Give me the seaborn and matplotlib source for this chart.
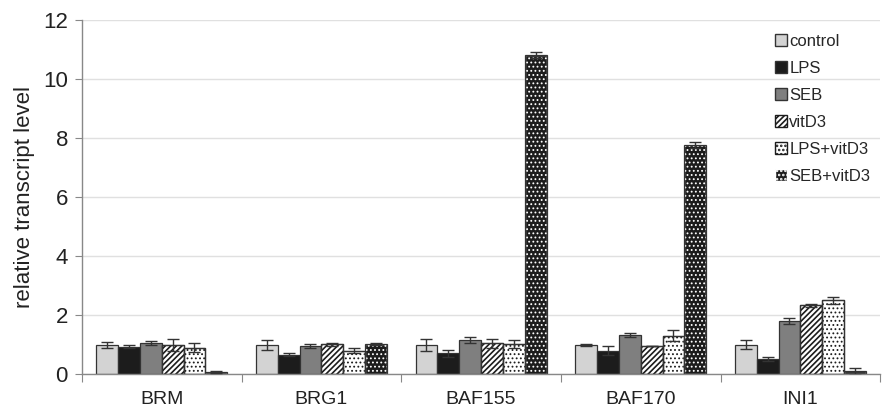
import numpy as np
import pandas as pd
import seaborn as sns
import matplotlib.pyplot as plt
from matplotlib.patches import Patch

# data
genes = ['BRM', 'BRG1', 'BAF155', 'BAF170', 'INI1']
treatments = ['control', 'LPS', 'SEB', 'vitD3', 'LPS+vitD3', 'SEB+vitD3']

control = [1.00, 1.00, 1.00, 0.98, 1.00]
lps = [0.93, 0.65, 0.70, 0.80, 0.50]
seb = [1.05, 0.95, 1.15, 1.33, 1.80]
vitd3 = [1.00, 1.02, 1.05, 0.95, 2.33]
lps_vitd3 = [0.90, 0.80, 1.02, 1.30, 2.50]
seb_vitd3 = [0.07, 1.02, 10.80, 7.75, 0.10]

control_err = [0.10, 0.17, 0.20, 0.03, 0.15]
lps_err = [0.05, 0.05, 0.12, 0.15, 0.07]
seb_err = [0.07, 0.08, 0.10, 0.08, 0.10]
vitd3_err = [0.20, 0.05, 0.15, 0.00, 0.05]
lps_vitd3_err = [0.15, 0.07, 0.15, 0.18, 0.12]
seb_vitd3_err = [0.02, 0.02, 0.10, 0.10, 0.12]

values = [control, lps, seb, vitd3, lps_vitd3, seb_vitd3]
errors = [control_err, lps_err, seb_err, vitd3_err, lps_vitd3_err, seb_vitd3_err]

rows = []
for t, vals in zip(treatments, values):
    for g, v in zip(genes, vals):
        rows.append({'gene': g, 'treatment': t, 'level': v})
df = pd.DataFrame(rows)

# bar styles: face, hatch, hatch colour
faces = ['#d3d3d3', '#1c1c1c', '#7f7f7f', 'white', 'white', '#1c1c1c']
hatches = [None, None, None, '//////', '....', '....']
hatch_cols = ['#333333', '#333333', '#333333', '#1c1c1c', '#1c1c1c', 'white']
hatch_lw = [1.0, 1.0, 1.0, 1.2, 0.8, 0.8]

sns.set_style('white')
plt.rcParams['font.family'] = ['Liberation Sans', 'DejaVu Sans']
plt.rcParams['hatch.linewidth'] = 1.2

fig = plt.figure(figsize=(8.9, 4.08), dpi=100)
ax = fig.add_axes([0.092, 0.083, 0.897, 0.868])

sns.barplot(data=df, x='gene', y='level', hue='treatment', order=genes,
            hue_order=treatments, errorbar=None, width=0.82, ax=ax,
            legend=False)

bar_groups = list(ax.containers)
for i, cont in enumerate(bar_groups):
    xs, hs = [], []
    for bar in cont:
        bar.set_facecolor(faces[i])
        bar.set_linewidth(0.9)
        if hatches[i]:
            bar.set_hatch(hatches[i])
            bar.set_edgecolor(hatch_cols[i])
            if hasattr(bar, 'set_hatch_linewidth'):
                bar.set_hatch_linewidth(hatch_lw[i])
            # outline drawn separately so the hatch colour can differ
            ax.add_patch(plt.Rectangle(bar.get_xy(), bar.get_width(), bar.get_height(),
                                       fill=False, edgecolor='#333333', linewidth=0.9,
                                       zorder=bar.get_zorder() + 0.1))
        else:
            bar.set_edgecolor('#333333')
        xs.append(bar.get_x() + bar.get_width() / 2)
        hs.append(bar.get_height())
    ax.errorbar(xs, hs, yerr=errors[i], fmt='none', ecolor='#333333',
                elinewidth=1.0, capsize=4, capthick=1.0, zorder=5)

ax.set_ylim(0, 12)
ax.set_xlim(-0.5, 4.5)
ax.set_yticks(np.arange(0, 13, 2))
ax.yaxis.grid(True, color='#e0e0e0', linewidth=1.0)
ax.set_axisbelow(True)
ax.set_xlabel('')
ax.set_ylabel('relative transcript level', fontsize=16, color='#222222', labelpad=6)

ax.tick_params(axis='y', labelsize=16, colors='#222222', length=5, width=0.8,
               left=True, color='#888888', pad=5)
ax.tick_params(axis='x', labelsize=14, colors='#222222', length=0, pad=12)
ax.set_xticks(np.arange(-0.5, 4.6, 1), minor=True)
ax.tick_params(axis='x', which='minor', length=6, width=0.8, color='#888888', bottom=True)

for s in ['top', 'right']:
    ax.spines[s].set_visible(False)
for s in ['left', 'bottom']:
    ax.spines[s].set_color('#888888')
    ax.spines[s].set_linewidth(1.0)

handles = []
for i in range(len(treatments)):
    h = Patch(facecolor=faces[i], edgecolor=hatch_cols[i] if hatches[i] else '#333333',
              hatch=hatches[i], label=treatments[i])
    handles.append(h)
ax.legend(handles=handles, loc='upper right', bbox_to_anchor=(1.0, 0.99),
          frameon=False, fontsize=12, handlelength=0.7, handleheight=0.7,
          handletextpad=0.15, labelspacing=0.72, borderaxespad=0.2)

fig.savefig('out.png', dpi=100)
